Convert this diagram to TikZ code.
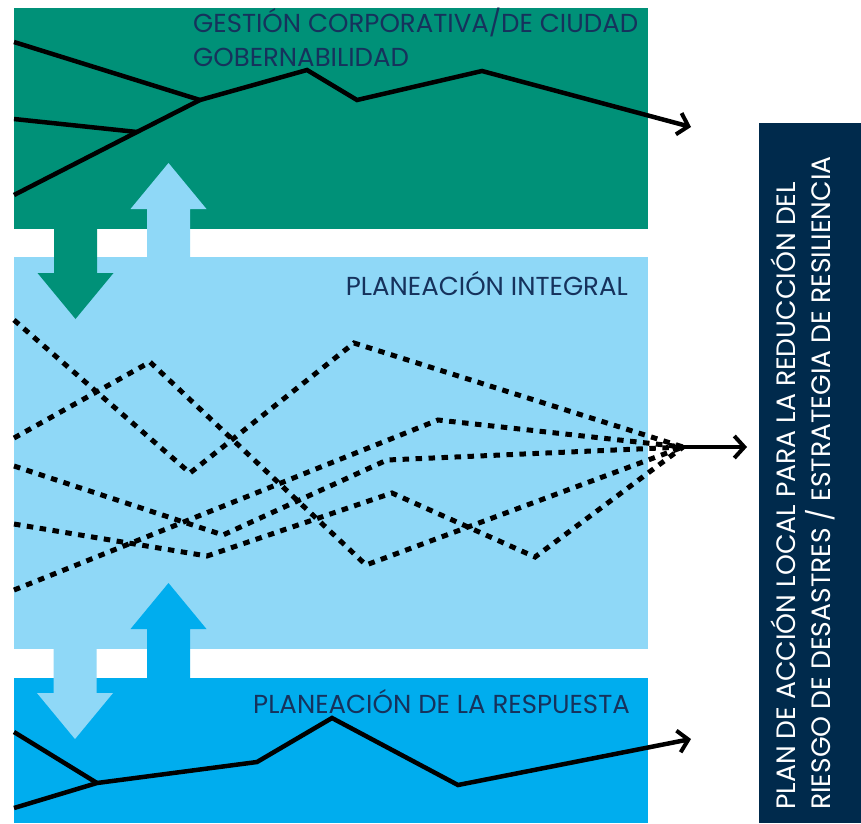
\documentclass[tikz,border=0pt]{standalone}
\usepackage{fontspec}
\setmainfont{Poppins}
\usetikzlibrary{arrows.meta}
\definecolor{gestgreen}{RGB}{0,145,120}
\definecolor{planblue}{RGB}{143,216,247}
\definecolor{respblue}{RGB}{0,173,238}
\definecolor{plannavy}{RGB}{0,42,76}
\definecolor{labelink}{RGB}{22,50,92}
% block arrow: colour, centre x, shaft end y, head base y, tip y
\newcommand{\blockarr}[5]{\fill[#1] (#2-21.5,#3)--(#2+21.5,#3)--(#2+21.5,#4)--(#2+38,#4)--(#2,#5)--(#2-38,#4)--(#2-21.5,#4)--cycle;}

\begin{document}
\begin{tikzpicture}[x=1pt,y=-1pt,
  band/.style={fill=#1, inner sep=0pt, anchor=north west},
  boxlabel/.style={text=labelink, inner sep=0pt, font=\fontsize{26}{30}\selectfont},
  sidelabel/.style={text=white, inner sep=0pt, rotate=90, anchor=base west, font=\fontsize{26.6}{30}\selectfont},
  trend/.style={line width=4.5pt, line join=miter},
  option/.style={line width=5pt, dash pattern=on 6.5pt off 6.5pt},
  tip/.style={-{Straight Barb[length=10pt,width=22pt,line width=4pt]}}]
\useasboundingbox (0,0) rectangle (861,823);
\fill[white] (0,0) rectangle (861,823);

\node[band=gestgreen, minimum width=634pt, minimum height=221pt] (gestion) at (14,8) {};
\node[band=planblue, minimum width=634pt, minimum height=392pt] (planea) at (14,257) {};
\node[band=respblue, minimum width=634pt, minimum height=145pt] (respuesta) at (14,678) {};
\node[band=plannavy, minimum width=102pt, minimum height=700pt] (plan) at (759,123) {};

\blockarr{gestgreen}{75.5}{229}{273}{319}
\blockarr{planblue}{168.5}{257}{209}{163}
\blockarr{planblue}{75}{649}{693}{739}
\blockarr{respblue}{168.5}{678}{629}{583}

% corporate
\draw[trend] (14,42)--(200,100);
\draw[trend] (14,119)--(137,132);
\draw[trend] (14,195)--(137,132)--(200,100);
\draw[trend,tip] (200,100)--(307,70)--(357,100)--(482,71)--(691,127);

% integral
\coordinate (conv) at (683,447);
\draw[option] (14,320)--(190,473)--(354,343)--(conv);
\draw[option] (14,438)--(150,362)--(366,565)--(conv);
\draw[option] (14,466)--(223,535)--(387,460)--(conv);
\draw[option] (14,524)--(207,556)--(392,493)--(535,557)--(conv);
\draw[option] (14,590)--(438,420)--(conv);
\coordinate (convend) at (747,447);
\draw[trend,tip] (conv)--(convend);

% respuesta
\node[boxlabel, anchor=base west] (lresp) at (253,713) {PLANEACIÓN DE LA RESPUESTA};
\draw[trend] (14,732)--(97,783);
\draw[trend,tip] (14,808)--(97,783)--(257,762)--(332,718)--(458,785)--(691,739);

\node[boxlabel, anchor=base west] (lgest) at (193,32) {GESTIÓN CORPORATIVA/DE CIUDAD};
\node[boxlabel, anchor=base west] (lgob) at (193,66) {GOBERNABILIDAD};
\node[boxlabel, anchor=base east] (lplan) at (628,295) {PLANEACIÓN INTEGRAL};

\node[sidelabel] (lplanA) at (795,810) {PLAN DE ACCIÓN LOCAL PARA LA REDUCCIÓN DEL};
\node[sidelabel] (lplanB) at (830,810) {RIESGO DE DESASTRES / ESTRATEGIA DE RESILIENCIA};
\end{tikzpicture}
\end{document}
